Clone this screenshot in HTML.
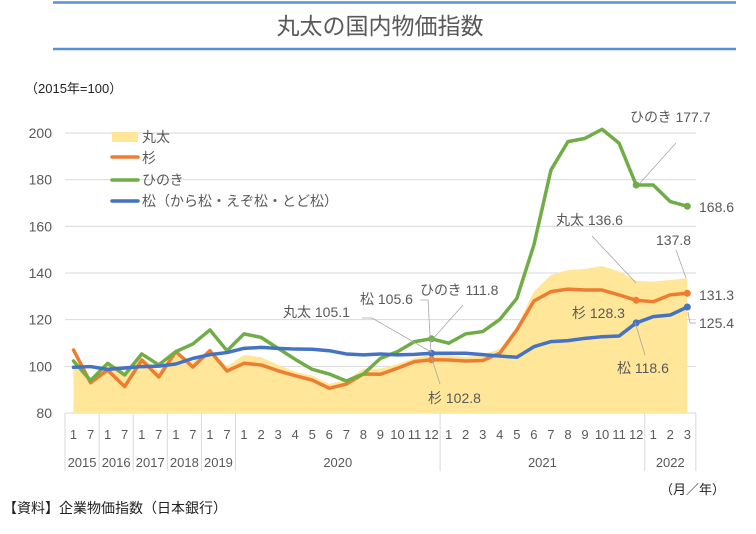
<!DOCTYPE html>
<html><head><meta charset="utf-8"><style>
body{margin:0;background:#fff;}
svg text{font-family:"Liberation Sans","Noto Sans CJK JP",sans-serif;fill:#595959;}
</style></head><body>
<svg id="chart" width="756" height="529" xmlns="http://www.w3.org/2000/svg">
<line x1="53" y1="2.5" x2="736" y2="2.5" stroke="#5B8FD6" stroke-width="2.5"/>
<line x1="53" y1="49" x2="736" y2="49" stroke="#5B8FD6" stroke-width="2.5"/>
<text x="380" y="34" font-size="23" text-anchor="middle">丸太の国内物価指数</text>
<text x="25" y="93" font-size="13" fill="#222" style="fill:#222">（2015年=100）</text>
<g id="grid"></g><g id="xaxis"></g><g id="series"></g>
<g font-size="14">
<rect x="112" y="132" width="26" height="10" fill="#FFE699"/>
<text x="142" y="142" font-size="14">丸太</text>
<line x1="112" y1="157" x2="138" y2="157" stroke="#ED7D31" stroke-width="3.5" stroke-linecap="round"/>
<text x="142" y="163" font-size="14">杉</text>
<line x1="112" y1="180" x2="138" y2="180" stroke="#70AD47" stroke-width="3.5" stroke-linecap="round"/>
<text x="142" y="185" font-size="14">ひのき</text>
<line x1="112" y1="201" x2="138" y2="201" stroke="#4472C4" stroke-width="3.5" stroke-linecap="round"/>
<text x="142" y="206" font-size="14">松（から松・えぞ松・とど松）</text>
</g>
<g font-size="14" stroke="none">
<g stroke="#A6A6A6" stroke-width="0.8" fill="none">
<line x1="640" y1="183" x2="676" y2="143"/>
<line x1="592" y1="236" x2="636" y2="283"/>
<line x1="676" y1="250" x2="686" y2="278"/>
<line x1="688" y1="312" x2="690" y2="323"/><line x1="690" y1="323" x2="696" y2="323"/>
<line x1="635" y1="322" x2="645" y2="355"/>
<polyline points="362,318 372,318 431,352"/>
<polyline points="420,300 428,300 431,353"/>
<line x1="463" y1="305" x2="431" y2="341"/>
<line x1="431" y1="356" x2="440" y2="384"/>
</g>
<text x="630" y="122">ひのき 177.7</text>
<text x="699" y="212">168.6</text>
<text x="556" y="225">丸太 136.6</text>
<text x="656" y="245">137.8</text>
<text x="699" y="300">131.3</text>
<text x="572" y="318">杉 128.3</text>
<text x="699" y="328">125.4</text>
<text x="617" y="373">松 118.6</text>
<text x="283" y="317">丸太 105.1</text>
<text x="360" y="304">松 105.6</text>
<text x="420" y="295">ひのき 111.8</text>
<text x="428" y="403">杉 102.8</text>
</g>
<text x="660" y="494" font-size="13" style="fill:#222">（月／年）</text>
<text x="3" y="513" font-size="14" style="fill:#222">【資料】企業物価指数（日本銀行）</text>
</svg>
<script>
const months = ["1","7","1","7","1","7","1","7","1","7","1","2","3","4","5","6","7","8","9","10","11","12","1","2","3","4","5","6","7","8","9","10","11","12","1","2","3"];
const years = [["2015",0,2],["2016",2,4],["2017",4,6],["2018",6,8],["2019",8,10],["2020",10,22],["2021",22,34],["2022",34,37]];
const yTicks = [80,100,120,140,160,180,200];
const maruta = [100,95,100,96,104,98,106.5,102,107,100,104.9,103.9,100.6,97.7,96,92.5,94,99,99,101,103.5,105.1,105,104,105,107.5,117,132,139.1,141.3,141.7,143,140.6,136.6,136.3,137,137.8];
const sugi = [107,93,98.4,91.3,102.7,95.4,106.3,99.7,106.7,98,101.3,100.6,98.1,96,94.1,90.6,92.4,96.7,96.6,99.2,102,102.8,102.7,102.3,102.5,105.6,115.6,128,132,133.1,132.7,132.7,130.6,128.3,127.7,130.6,131.3];
const hinoki = [102.3,93.9,101.3,96.3,105.3,100.6,106.3,109.6,115.6,106.7,113.9,112.4,107.7,103,98.7,96.7,93.7,96.7,103.4,106.3,110.6,111.8,109.9,113.9,114.9,120.1,129.1,152,184.1,196.3,197.7,201.6,195.6,177.7,177.7,170.6,168.6];
const matsu = [99.6,99.9,98.7,99.3,99.9,100.1,101,103.4,105,105.9,107.7,108.1,107.7,107.4,107.3,106.7,105.3,104.9,105.3,104.9,105.1,105.6,105.6,105.6,105,104.4,103.9,108.4,110.6,111,112,112.7,113,118.6,121.3,122,125.4];
const X0=65, STEP=17.05, Y0=413, YS=46.67/20;
const xs = i => X0 + STEP*(i+0.5);
const ys = v => Y0 - (v-80)*YS;
const NS="http://www.w3.org/2000/svg";
function mk(tag, parent, attrs){const e=document.createElementNS(NS,tag);for(const k in attrs)e.setAttribute(k,attrs[k]);parent.appendChild(e);return e;}
const grid=document.getElementById('grid'), xa=document.getElementById('xaxis'), ser=document.getElementById('series');
yTicks.forEach(t=>{
  const l=mk('line',grid,{x1:X0,x2:696,y1:ys(t),y2:ys(t),stroke:'#D9D9D9','stroke-width':1});
  
  
  const tx=mk('text',grid,{x:52,y:ys(t)+5,'font-size':14,'text-anchor':'end'});
  tx.textContent=t;
  
  
});
months.forEach((m,i)=>{
  const t=mk('text',xa,{x:xs(i),y:439,'font-size':13,'text-anchor':'middle'});
  t.textContent=m;
  
  
});
years.forEach(([y,a,b])=>{
  const l=mk('line',xa,{x1:X0+STEP*a,x2:X0+STEP*a,y1:Y0,y2:471,stroke:'#D9D9D9','stroke-width':1});
  
  
  const t=mk('text',xa,{x:X0+STEP*(a+b)/2,y:467,'font-size':13,'text-anchor':'middle'});
  t.textContent=y;
  
  
});
const le=mk('line',xa,{x1:X0+STEP*37,x2:X0+STEP*37,y1:Y0,y2:471,stroke:'#D9D9D9','stroke-width':1});


let d='M'+xs(0)+','+Y0;
maruta.forEach((v,i)=>{d+=' L'+xs(i)+','+ys(v);});
d+=' L'+xs(maruta.length-1)+','+Y0+' Z';
const area=mk('path',ser,{d:d,fill:'#FFE699'});


[[sugi,'#ED7D31','line-sugi'],[hinoki,'#70AD47','line-hinoki'],[matsu,'#4472C4','line-matsu']].forEach(([arr,c,n])=>{
  const p=mk('polyline',ser,{points:arr.map((v,i)=>xs(i)+','+ys(v)).join(' '),fill:'none',stroke:c,'stroke-width':3.5,'stroke-linejoin':'round','stroke-linecap':'round'});
  
  
  [21,33,36].forEach(i=>{
    const dot=mk('circle',ser,{cx:xs(i),cy:ys(arr[i]),r:3.5,fill:c});
    
    
  });
});
</script>
</body></html>
